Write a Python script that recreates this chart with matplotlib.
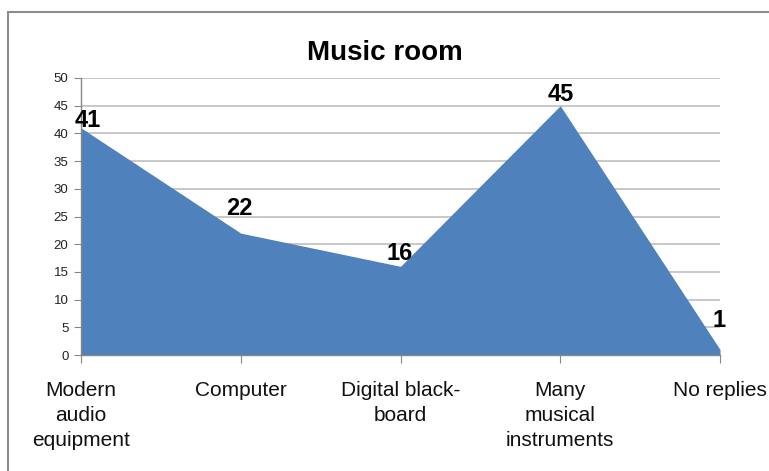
"""Area chart: Music room survey replies."""
import matplotlib.pyplot as plt
from matplotlib.patches import Rectangle

categories = ["Modern\naudio\nequipment", "Computer", "Digital black-\nboard",
              "Many\nmusical\ninstruments", "No replies"]
values = [41, 22, 16, 45, 1]
y_ticks = list(range(0, 55, 5))

# label nudges in pixels (dx, dy from the point to the baseline centre)
label_offsets = [(7, 1), (-1, 18), (-1, 6), (0, 5), (-1, 22)]

plt.rcParams["font.family"] = ["Liberation Sans", "DejaVu Sans"]

W, H = 769, 471
fig = plt.figure(figsize=(W / 100, H / 100), dpi=100)
ax = fig.add_axes([81 / W, 1 - 355 / H, (720 - 81) / W, (355 - 78) / H])

x = list(range(len(values)))
ax.fill_between(x, values, 0, color="#4F81BD", linewidth=0, zorder=2)

ax.set_xlim(0, len(values) - 1)
ax.set_ylim(0, 50)
ax.set_yticks(y_ticks)
ax.set_xticks(x)
ax.set_xticklabels(categories, fontsize=15, linespacing=1.38)
ax.tick_params(axis="y", labelsize=9.5, direction="out", length=5,
               color="#868686", labelcolor="#222222", pad=4)
ax.tick_params(axis="x", direction="out", length=6, color="#868686",
               labelcolor="#111111", pad=13)
ax.grid(True, axis="y", color="#B9B9B9", linewidth=1.1, zorder=1)
ax.set_axisbelow(True)
for side in ("top", "right"):
    ax.spines[side].set_visible(False)
for side in ("left", "bottom"):
    ax.spines[side].set_color("#868686")
    ax.spines[side].set_linewidth(1.0)

for xi, v, (dx, dy) in zip(x, values, label_offsets):
    ax.annotate(str(v), (xi, v), xytext=(dx, dy), textcoords="offset pixels",
                ha="center", va="baseline", fontsize=17, fontweight="bold",
                color="black", annotation_clip=False, zorder=5)

fig.text(385 / W, 1 - 60 / H, "Music room", ha="center", va="baseline",
         fontsize=20, fontweight="bold")

# outer chart frame (cut off at right and bottom)
fig.patches.append(Rectangle((8 / W, -0.1), 1.2, 1 - 12 / H + 0.1,
                             transform=fig.transFigure, fill=False,
                             edgecolor="#8C8C8C", linewidth=1.5))

fig.savefig("out.png", dpi=100)
plt.close(fig)
